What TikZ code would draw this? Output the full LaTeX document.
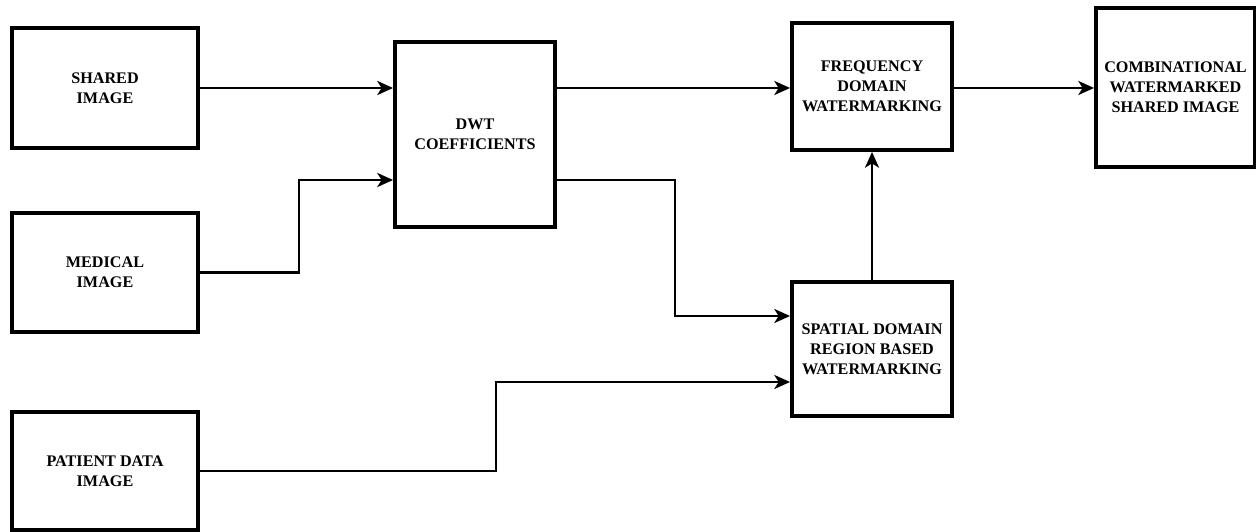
\documentclass[tikz,border=0pt]{standalone}
\usepackage{fontspec}
\setmainfont{Liberation Serif}
\usetikzlibrary{arrows.meta}
\begin{document}
\begin{tikzpicture}[
        block/.style={draw, line width=2.2pt, align=center, inner sep=0pt,
            font=\bfseries\fontsize{9.2}{11.3}\selectfont},
        link/.style={line width=1.3pt, -{Stealth[length=9pt, width=8pt, inset=2.5pt]}}
    ]
            \useasboundingbox (0,0) rectangle (25.12,10.62);

            \node[block, minimum width=3.72cm, minimum height=2.40cm] (shared) at (2.10, 8.86) {SHARED\\IMAGE};
            \node[block, minimum width=3.72cm, minimum height=2.38cm] (medical) at (2.10, 5.17) {MEDICAL\\IMAGE};
            \node[block, minimum width=3.72cm, minimum height=2.36cm] (patient) at (2.10, 1.20) {PATIENT DATA\\IMAGE};

            \node[block, minimum width=3.20cm, minimum height=3.70cm] (dwt) at (9.50, 7.93) {DWT\\COEFFICIENTS};

            \node[block, minimum width=3.20cm, minimum height=2.54cm] (freq) at (17.44, 8.89) {FREQUENCY\\DOMAIN\\WATERMARKING};
            \node[block, minimum width=3.20cm, minimum height=2.68cm] (spatial) at (17.44, 3.64) {SPATIAL DOMAIN\\REGION BASED\\WATERMARKING};

            \node[block, minimum width=3.18cm, minimum height=3.18cm] (comb) at (23.51, 8.87) {COMBINATIONAL\\WATERMARKED\\SHARED IMAGE};

            % inputs
            \draw[link] (shared.east) -- (shared.east -| dwt.west);
            \draw[link] (medical.east) -- ++(1.98,0) |- ([yshift=-0.91cm]dwt.west);
            \draw[link] (patient.east) -- ++(5.92,0) |- ([yshift=-0.66cm]spatial.west);

            % dwt outputs
            \draw[link] (dwt.east |- shared.east) -- (dwt.east |- shared.east -| freq.west);
            \draw[link] ([yshift=-0.91cm]dwt.east) -- ++(2.36,0) |- ([yshift=0.66cm]spatial.west);

            \draw[link] (spatial.north) -- (freq.south);
            \draw[link] (freq.east |- shared.east) -- (shared.east -| comb.west);
\end{tikzpicture}
\end{document}
